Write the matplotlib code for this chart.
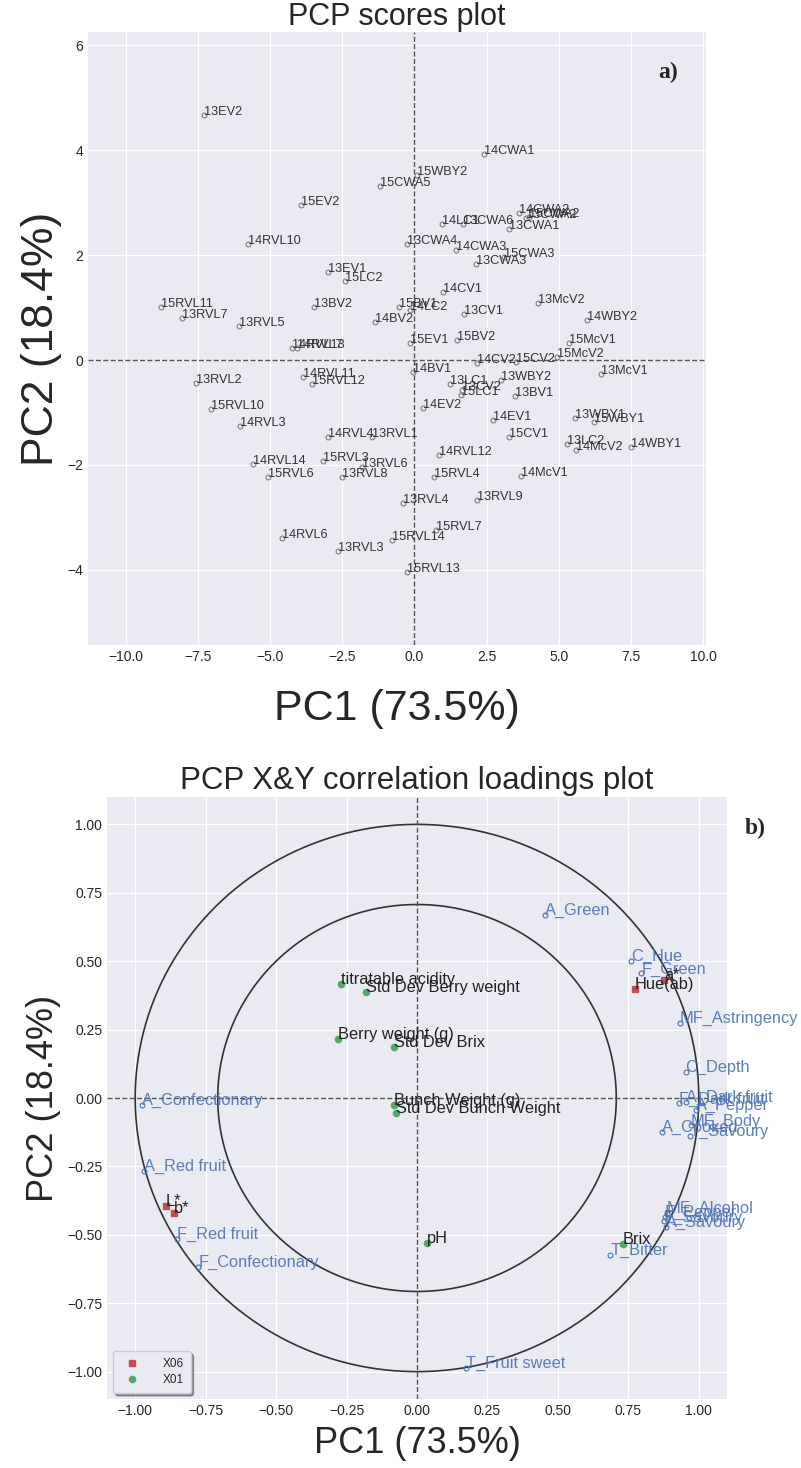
import numpy as np
import matplotlib.pyplot as plt

# ---- a) scores ----
sample_names = ['13EV2', '15CWA5', '15WBY2', '15EV2', '14RVL10', '13CWA4', '13EV1', '15LC2',
                '15RVL11', '13RVL7', '13RVL5', '13BV2', '15BV1', '14LC2', '14BV2', '15EV1',
                '14RVL13', '14RVL7', '13RVL2', '14RVL11', '15RVL12', '15RVL10', '14RVL3',
                '14RVL4', '13RVL1', '14RVL14', '15RVL6', '15RVL3', '13RVL6', '13RVL8',
                '13RVL4', '14RVL6', '13RVL3', '15RVL14', '15RVL13', '14BV1', '14CWA1',
                '14LC1', '13CWA6', '14CWA2', '13CWA2', '15CWA2', '13CWA1', '14CWA3',
                '13CWA3', '15CWA3', '14CV1', '13CV1', '13McV2', '14WBY2', '15BV2', '15McV1',
                '14CV2', '15CV2', '15McV2', '13McV1', '13LC1', '13CV2', '15LC1', '13WBY2',
                '13BV1', '14EV2', '14EV1', '15CV1', '13WBY1', '15WBY1', '13LC2', '14McV2',
                '14WBY1', '14RVL12', '15RVL4', '14McV1', '13RVL9', '15RVL7']
pc1 = [-7.28, -1.20, 0.09, -3.91, -5.75, -0.25, -3.00, -2.40,
       -8.78, -8.06, -6.08, -3.47, -0.54, -0.14, -1.35, -0.16,
       -4.25, -4.05, -7.55, -3.87, -3.53, -7.05, -6.04,
       -3.00, -1.47, -5.60, -5.06, -3.15, -1.82, -2.52,
       -0.39, -4.59, -2.65, -0.77, -0.25, -0.06, 2.41,
       0.96, 1.69, 3.62, 3.85, 3.97, 3.28, 1.46,
       2.12, 3.10, 1.00, 1.71, 4.28, 5.97, 1.48, 5.36,
       2.18, 3.51, 4.93, 6.46, 1.23, 1.66, 1.60, 2.99,
       3.47, 0.30, 2.73, 3.28, 5.56, 6.23, 5.30, 5.61,
       7.50, 0.85, 0.67, 3.70, 2.18, 0.76]
pc2 = [4.67, 3.31, 3.52, 2.95, 2.21, 2.21, 1.68, 1.50,
       1.01, 0.80, 0.65, 1.01, 1.01, 0.95, 0.72, 0.33,
       0.22, 0.22, -0.43, -0.32, -0.46, -0.93, -1.25,
       -1.46, -1.47, -1.99, -2.22, -1.92, -2.03, -2.22,
       -2.72, -3.40, -3.63, -3.43, -4.03, -0.22, 3.92,
       2.60, 2.59, 2.81, 2.70, 2.72, 2.49, 2.10,
       1.83, 1.97, 1.30, 0.88, 1.09, 0.76, 0.39, 0.33,
       -0.06, -0.03, 0.05, -0.27, -0.46, -0.57, -0.67, -0.38,
       -0.69, -0.92, -1.14, -1.47, -1.10, -1.19, -1.60, -1.71,
       -1.66, -1.81, -2.22, -2.21, -2.67, -3.23]

# ---- b) loadings ----
y_names = ['A_Green', 'C_Hue', 'F_Green', 'MF_Astringency', 'C_Depth', 'F_Dark fruit',
           'A_Dark fruit', 'A_Pepper', 'MF_Body', 'A_Cooked', 'T_Savoury', 'MF_Alcohol',
           'F_Pepper', 'F_Savoury', 'A_Savoury', 'T_Bitter', 'A_Confectionary',
           'A_Red fruit', 'F_Red fruit', 'F_Confectionary', 'T_Fruit sweet']
y_pc1 = [0.455, 0.761, 0.796, 0.932, 0.953, 0.93, 0.955, 0.99, 0.972, 0.869, 0.967, 0.887,
         0.879, 0.875, 0.882, 0.686, -0.977, -0.967, -0.852, -0.776, 0.174]
y_pc2 = [0.67, 0.501, 0.455, 0.273, 0.096, -0.02, -0.015, -0.045, -0.10, -0.123, -0.139,
         -0.42, -0.435, -0.451, -0.472, -0.573, -0.026, -0.265, -0.516, -0.616, -0.987]

x01_names = ['titratable acidity', 'Std Dev Berry weight', 'Berry weight (g)', 'Std Dev Brix',
             'Bunch Weight (g)', 'Std Dev Bunch Weight', 'Brix', 'pH']
x01_pc1 = [-0.271, -0.180, -0.281, -0.083, -0.083, -0.073, 0.731, 0.036]
x01_pc2 = [0.416, 0.389, 0.214, 0.187, -0.026, -0.054, -0.533, -0.53]

x06_names = ['Hue(ab)', 'a*', 'L*', 'b*']
x06_pc1 = [0.772, 0.876, -0.891, -0.861]
x06_pc2 = [0.397, 0.433, -0.394, -0.419]

plt.style.use('seaborn-v0_8-darkgrid')
plt.rcParams['font.family'] = ['Liberation Sans', 'DejaVu Sans']

fig = plt.figure(figsize=(8.01, 14.68), dpi=100)
ax1 = fig.add_axes([88 / 801, 1 - 645 / 1468, 618 / 801, 613 / 1468])
ax2 = fig.add_axes([107 / 801, 1 - 1399 / 1468, 620 / 801, 602 / 1468])

# scores plot
ax1.plot(pc1, pc2, 'o', ms=3.5, mfc='none', mec='gray', mew=0.8)
for name, x, y in zip(sample_names, pc1, pc2):
    ax1.text(x, y, name, fontsize=9.2, color='#333333')
ax1.axhline(0, ls='--', color='#555555', lw=1)
ax1.axvline(0, ls='--', color='#555555', lw=1)
ax1.set_xlim(-11.3, 10.1)
ax1.set_ylim(-5.43, 6.25)
ax1.set_xticks(np.arange(-10, 10.1, 2.5))
ax1.set_yticks([-4, -2, 0, 2, 4, 6])
ax1.tick_params(labelsize=10)
ax1.set_title('PCP scores plot', fontsize=22, pad=3)
ax1.set_xlabel('PC1 (73.5%)', fontsize=31, labelpad=18)
ax1.set_ylabel('PC2 (18.4%)', fontsize=32)
fig.text(668 / 801, 1 - 72 / 1468, 'a)', fontsize=17, fontweight='bold',
         family='Liberation Serif', ha='center', va='center')

# correlation loadings plot
t = np.linspace(0, 2 * np.pi, 400)
ax2.plot(np.cos(t), np.sin(t), color='#333333', lw=1.2)
ax2.plot(np.sqrt(0.5) * np.cos(t), np.sqrt(0.5) * np.sin(t), color='#333333', lw=1.2)
ax2.axhline(0, ls='--', color='#555555', lw=1)
ax2.axvline(0, ls='--', color='#555555', lw=1)

ax2.plot(y_pc1, y_pc2, 'o', ms=3.5, mfc='none', mec='#4C72B0', mew=0.8)
for name, x, y in zip(y_names, y_pc1, y_pc2):
    ax2.text(x, y, name, fontsize=11.8, color='#4C72B0', alpha=0.9)

h06, = ax2.plot(x06_pc1, x06_pc2, 's', ms=4.5, color='#C44E52', label='X06')
for name, x, y in zip(x06_names, x06_pc1, x06_pc2):
    ax2.text(x, y, name, fontsize=11.8, color='#222222')
h01, = ax2.plot(x01_pc1, x01_pc2, 'o', ms=4.5, color='#55A868', label='X01')
for name, x, y in zip(x01_names, x01_pc1, x01_pc2):
    ax2.text(x, y, name, fontsize=11.8, color='#222222')

ax2.set_xlim(-1.1, 1.1)
ax2.set_ylim(-1.1, 1.1)
ax2.set_xticks(np.arange(-1, 1.01, 0.25))
ax2.set_yticks(np.arange(-1, 1.01, 0.25))
ax2.tick_params(labelsize=10)
ax2.set_title('PCP X&Y correlation loadings plot', fontsize=22.5)
ax2.set_xlabel('PC1 (73.5%)', fontsize=26, labelpad=6)
ax2.set_ylabel('PC2 (18.4%)', fontsize=26)
ax2.legend(handles=[h06, h01], loc='lower left', fontsize=8.5, frameon=True, shadow=True,
           handletextpad=1.6, labelspacing=0.3, borderpad=0.6)
fig.text(755 / 801, 1 - 828 / 1468, 'b)', fontsize=17, fontweight='bold',
         family='Liberation Serif', ha='center', va='center')

fig.savefig('out.png', dpi=100)
